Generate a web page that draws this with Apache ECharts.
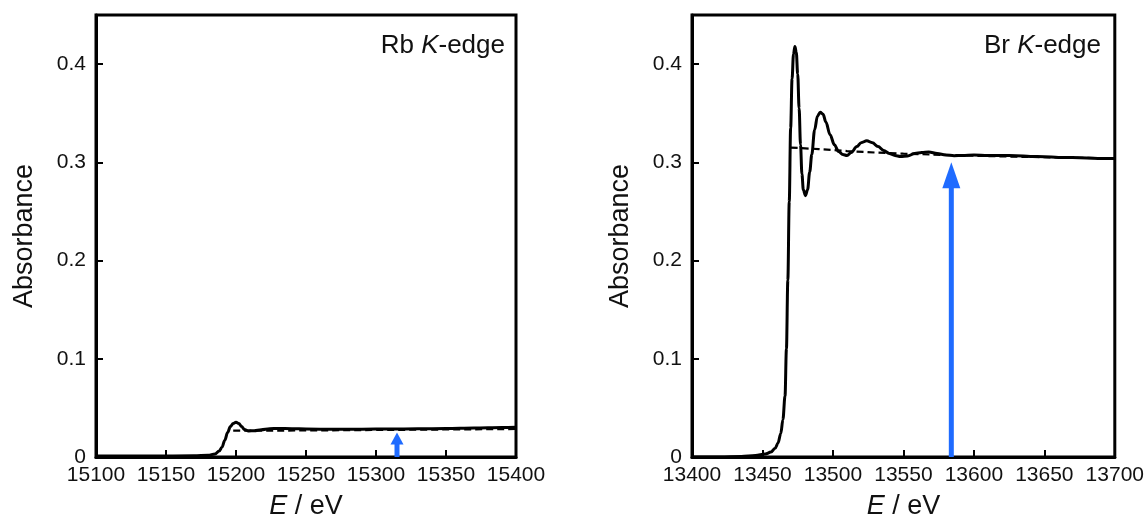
<!DOCTYPE html>
<html>
<head>
<meta charset="utf-8">
<script src="https://cdn.jsdelivr.net/npm/echarts@6/dist/echarts.min.js"></script>
<style>
html,body{margin:0;padding:0;background:#fff;}
#chart{width:1147px;height:525px;}
</style>
</head>
<body>
<div id="chart"></div>
<script>
// ---------- data ----------
const rbE = [15100,15140,15170,15180,15185,15188,15190,15192,15194,15196,15198,15200,15202,15204,15206,15209,15213,15218,15224,15230,15240,15250,15270,15290,15310,15330,15350,15370,15390,15400];
const rbA = [0.001,0.001,0.0012,0.0018,0.003,0.006,0.010,0.017,0.025,0.031,0.034,0.0355,0.034,0.031,0.028,0.0265,0.0268,0.0278,0.0288,0.029,0.0288,0.0285,0.0282,0.0283,0.0285,0.0287,0.029,0.0295,0.030,0.0302];
const rbFitE = [15198,15250,15300,15350,15400];
const rbFitA = [0.0268,0.027,0.0275,0.028,0.0285];
const rbArrow = [15315, 0.025];

const brE = [13400,13420,13435,13445,13452,13456,13459,13461,13463,13464.5,13466,13467,13468,13469,13470,13471,13472,13473,13474,13475,13476,13477,13478,13479,13480.5,13482,13483.5,13485,13487,13489,13491,13493,13495,13498,13501,13504,13507,13510,13513,13517,13520,13524,13528,13532,13536,13540,13544,13548,13553,13558,13563,13568,13574,13580,13586,13592,13600,13610,13620,13630,13640,13650,13660,13670,13680,13690,13700];
const brA = [0.000,0.000,0.0005,0.0015,0.003,0.005,0.009,0.014,0.024,0.038,0.062,0.11,0.18,0.26,0.335,0.385,0.41,0.418,0.412,0.39,0.355,0.318,0.288,0.272,0.266,0.272,0.29,0.308,0.333,0.347,0.351,0.349,0.341,0.328,0.318,0.311,0.308,0.307,0.310,0.316,0.320,0.322,0.320,0.316,0.312,0.309,0.307,0.306,0.3065,0.309,0.310,0.3105,0.309,0.3075,0.3068,0.307,0.3075,0.307,0.307,0.3068,0.306,0.3058,0.305,0.3048,0.3045,0.304,0.3038];
const brFitE = [13470,13490,13510,13530,13550,13580,13620,13660,13700];
const brFitA = [0.315,0.3135,0.3115,0.310,0.3088,0.3075,0.306,0.305,0.304];
const brArrow = [13584, 0.300];

const yTicks = [0, 0.1, 0.2, 0.3, 0.4];
const panelLabels = [['Rb', 'K', '-edge'], ['Br', 'K', '-edge']];

// ---------- chart ----------
const FONT = "'Liberation Sans', Arial, sans-serif";
const TXT = '#111';
const zip = (a, b) => a.map((v, i) => [v, b[i]]);
const ARROW_COLOR = '#1f6bff';

function arrowRender(headW, headL, shaftW) {
  return function (params, api) {
    const x = api.value(0), top = api.value(1);
    const p0 = api.coord([x, 0]);
    const p1 = api.coord([x, top]);
    const yBase = p1[1] + headL;
    return {
      type: 'group',
      children: [
        { type: 'rect', shape: { x: p0[0] - shaftW / 2, y: yBase - 1, width: shaftW, height: p0[1] - yBase + 1 }, style: { fill: ARROW_COLOR } },
        { type: 'polygon', shape: { points: [[p1[0], p1[1]], [p1[0] - headW / 2, yBase], [p1[0] + headW / 2, yBase]] }, style: { fill: ARROW_COLOR } }
      ]
    };
  };
}

function xAxisCfg(idx, min, max) {
  return {
    type: 'value', gridIndex: idx, min: min, max: max, interval: 50,
    name: '{i|E} / eV', nameLocation: 'middle', nameGap: 36,
    nameTextStyle: { fontFamily: FONT, fontSize: 27, color: TXT, rich: { i: { fontStyle: 'italic', fontFamily: FONT, fontSize: 27, color: TXT } } },
    axisLine: { show: true, lineStyle: { color: '#000', width: 3 } },
    axisTick: { show: true, inside: true, length: 7, lineStyle: { color: '#000', width: 2 } },
    axisLabel: { fontFamily: FONT, fontSize: 21, color: TXT, margin: 8, showMinLabel: true, showMaxLabel: true, formatter: v => String(v) },
    splitLine: { show: false }
  };
}
function yAxisCfg(idx) {
  return {
    type: 'value', gridIndex: idx, min: 0, max: 0.45, interval: 0.1,
    name: 'Absorbance', nameLocation: 'middle', nameGap: 58, nameRotate: 90,
    nameTextStyle: { fontFamily: FONT, fontSize: 27, color: TXT },
    axisLine: { show: true, lineStyle: { color: '#000', width: 3 } },
    axisTick: { show: true, inside: true, length: 7, lineStyle: { color: '#000', width: 2 } },
    axisLabel: {
      fontFamily: FONT, fontSize: 21, color: TXT, margin: 10, showMaxLabel: false,
      formatter: v => {
        const t = yTicks.find(k => Math.abs(k - v) < 1e-6);
        if (t === undefined) return '';
        return t === 0 ? '0' : t.toFixed(1);
      }
    },
    splitLine: { show: false }
  };
}
function titleCfg(parts, right) {
  return {
    text: '{a|' + parts[0] + ' }{i|' + parts[1] + '}{a|' + parts[2] + '}',
    right: right, top: 28,
    textStyle: {
      fontWeight: 'normal',
      rich: {
        a: { fontFamily: FONT, fontSize: 26, color: TXT, fontWeight: 'normal' },
        i: { fontFamily: FONT, fontSize: 26, color: TXT, fontStyle: 'italic', fontWeight: 'normal' }
      }
    }
  };
}
const lineBase = { type: 'line', showSymbol: false, symbol: 'none', smooth: 0.35, smoothMonotone: 'x', animation: false };

const option = {
  animation: false,
  backgroundColor: '#fff',
  title: [titleCfg(panelLabels[0], 637), titleCfg(panelLabels[1], 41)],
  grid: [
    { left: 96, right: 631, top: 15, bottom: 66, show: true, borderColor: '#000', borderWidth: 3 },
    { left: 692, right: 32, top: 15, bottom: 66, show: true, borderColor: '#000', borderWidth: 3 }
  ],
  xAxis: [xAxisCfg(0, 15100, 15400), xAxisCfg(1, 13400, 13700)],
  yAxis: [yAxisCfg(0), yAxisCfg(1)],
  series: [
    Object.assign({}, lineBase, { xAxisIndex: 0, yAxisIndex: 0, data: zip(rbFitE, rbFitA), smooth: false, z: 2, lineStyle: { color: '#000', width: 2.2, type: [7, 4] } }),
    Object.assign({}, lineBase, { xAxisIndex: 0, yAxisIndex: 0, data: zip(rbE, rbA), z: 3, lineStyle: { color: '#000', width: 3 } }),
    { type: 'custom', xAxisIndex: 0, yAxisIndex: 0, data: [rbArrow], renderItem: arrowRender(13, 12, 5), z: 4 },
    Object.assign({}, lineBase, { xAxisIndex: 1, yAxisIndex: 1, data: zip(brFitE, brFitA), smooth: false, z: 2, lineStyle: { color: '#000', width: 2.2, type: [7, 4] } }),
    Object.assign({}, lineBase, { xAxisIndex: 1, yAxisIndex: 1, data: zip(brE, brA), z: 3, lineStyle: { color: '#000', width: 3 } }),
    { type: 'custom', xAxisIndex: 1, yAxisIndex: 1, data: [brArrow], renderItem: arrowRender(18, 26, 5), z: 4 }
  ]
};
const chart = echarts.init(document.getElementById('chart'), null, { renderer: 'canvas' });
chart.setOption(option);
</script>
</body>
</html>
